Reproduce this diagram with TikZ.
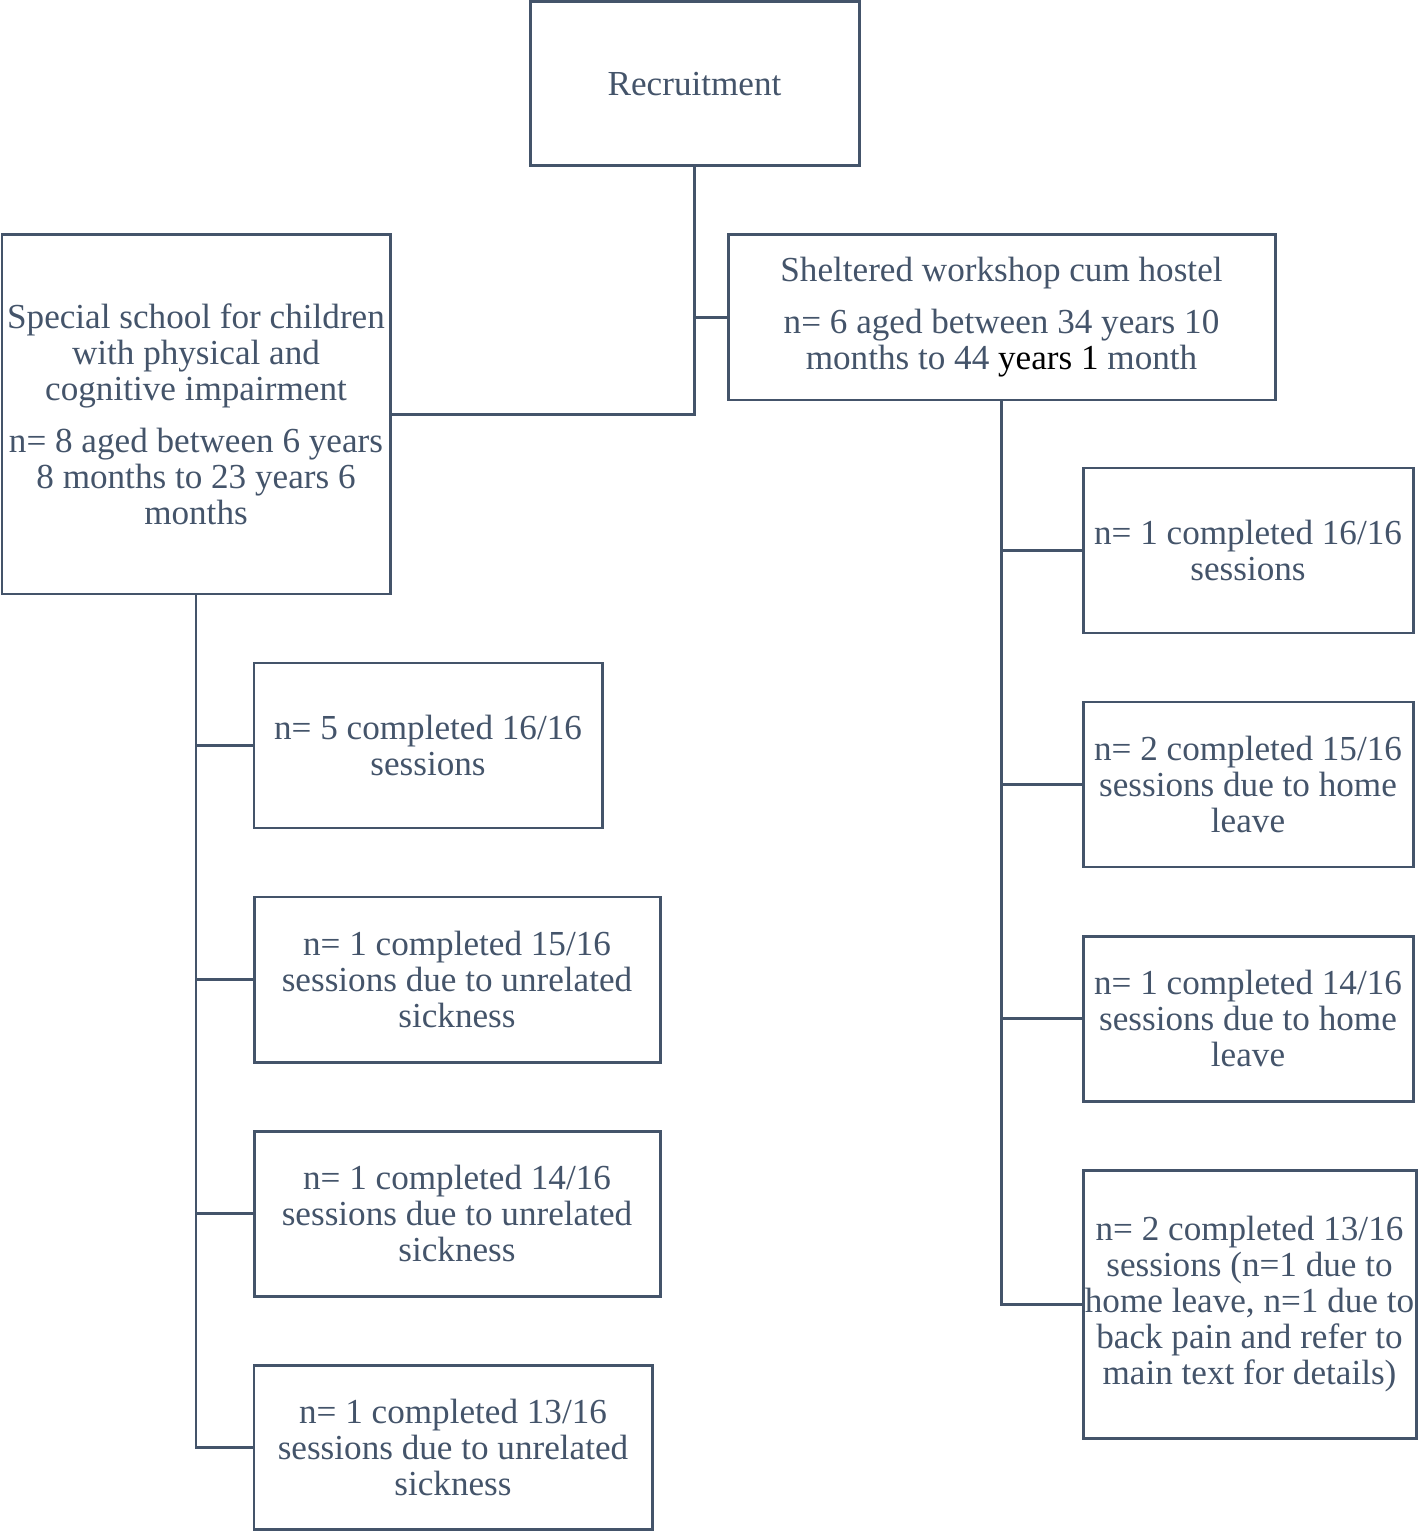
\documentclass[tikz,border=0pt]{standalone}
\usepackage{fontspec}
\setmainfont{Liberation Serif}
\definecolor{slate}{HTML}{44546A}
\tikzset{
  box/.style={draw=slate, line width=0.85pt, align=center, inner sep=0pt, text=slate,
    font=\fontsize{10}{10.24}\selectfont},
  link/.style={draw=slate, line width=0.85pt}
}
\begin{document}
\begin{tikzpicture}
            \useasboundingbox (0,0) rectangle (14.18,-15.31);
            \node[box, minimum width=3.29cm, minimum height=1.64cm] (rec) at (6.945,-0.84) {Recruitment};
            \node[box, minimum width=3.88cm, minimum height=3.59cm] (school) at (1.96,-4.145)
                {Special school for children\\ with physical and\\ cognitive impairment\\[4.5pt] n= 8 aged between 6 years\\ 8 months to 23 years 6\\ months};
            \node[box, minimum width=5.47cm, minimum height=1.65cm] (shelter) at (10.015,-3.175)
                {Sheltered workshop cum hostel\\[4.5pt] n= 6 aged between 34 years 10\\ months to 44 {\color{black}years 1} month};
            % left branch
            \node[box, minimum width=3.48cm, minimum height=1.65cm] (l1) at (4.28,-7.455) {n= 5 completed 16/16\\ sessions};
            \node[box, minimum width=4.06cm, minimum height=1.65cm] (l2) at (4.57,-9.795) {n= 1 completed 15/16\\ sessions due to unrelated\\ sickness};
            \node[box, minimum width=4.06cm, minimum height=1.65cm] (l3) at (4.57,-12.135) {n= 1 completed 14/16\\ sessions due to unrelated\\ sickness};
            \node[box, minimum width=3.98cm, minimum height=1.64cm] (l4) at (4.53,-14.47) {n= 1 completed 13/16\\ sessions due to unrelated\\ sickness};
            % right branch
            \node[box, minimum width=3.30cm, minimum height=1.65cm] (r1) at (12.48,-5.505) {n= 1 completed 16/16\\ sessions};
            \node[box, minimum width=3.30cm, minimum height=1.65cm] (r2) at (12.48,-7.845) {n= 2 completed 15/16\\ sessions due to home\\ leave};
            \node[box, minimum width=3.30cm, minimum height=1.65cm] (r3) at (12.48,-10.185) {n= 1 completed 14/16\\ sessions due to home\\ leave};
            \node[box, minimum width=3.33cm, minimum height=2.68cm] (r4) at (12.495,-13.04) {n= 2 completed 13/16\\ sessions (n=1 due to\\ home leave, n=1 due to\\ back pain and refer to\\ main text for details)};
            \draw[link] (rec.south) |- (school.east);
            \draw[link] (shelter.west) -- (shelter.west -| rec.south);
            \foreach \k in {l1,l2,l3,l4} \draw[link] (school.south) |- (\k.west);
            \foreach \k in {r1,r2,r3,r4} \draw[link] (shelter.south) |- (\k.west);
        \end{tikzpicture}
\end{document}
